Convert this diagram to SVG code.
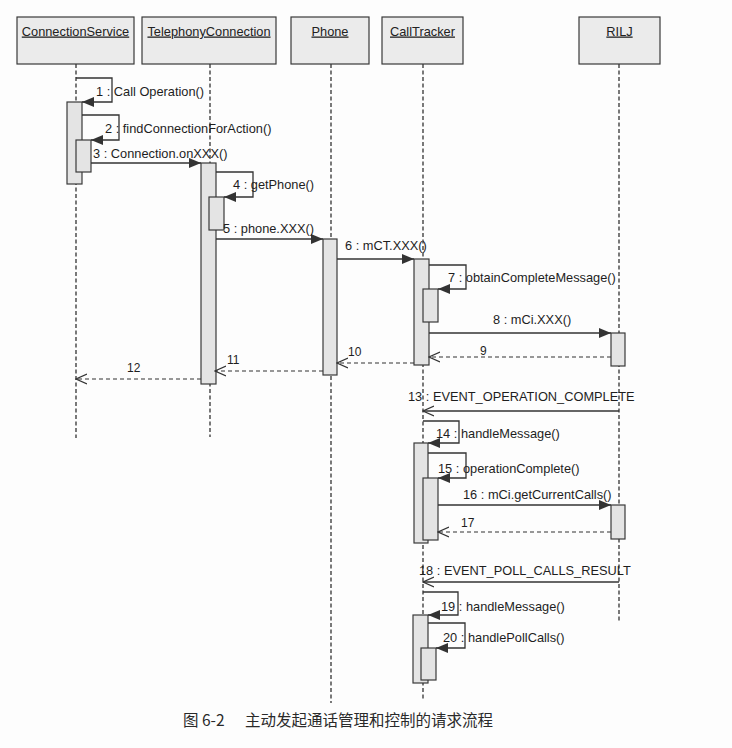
<svg xmlns="http://www.w3.org/2000/svg" width="732" height="748" viewBox="0 0 732 748">
  <defs>
    <style>
      .bg { fill: #fdfdfd; }
      .head { fill: #ebebeb; stroke: #3a3a3a; stroke-width: 1.2; }
      .htext { font-family: "Liberation Sans", Arial, sans-serif; font-size: 12.8px; fill: #222; text-anchor: middle; text-decoration: underline; }
      .life { stroke: #333; stroke-width: 1.3; stroke-dasharray: 4 2.5; fill: none; }
      .act { fill: #e4e4e4; stroke: #3a3a3a; stroke-width: 1.2; }
      .msg { stroke: #333; stroke-width: 1.3; fill: none; }
      .ret { stroke: #333; stroke-width: 1.2; fill: none; stroke-dasharray: 4 3; }
      .lbl { font-family: "Liberation Sans", Arial, sans-serif; font-size: 12.8px; fill: #1e1e1e; }
      .num { font-family: "Liberation Sans", Arial, sans-serif; font-size: 12px; fill: #1e1e1e; }
      .cap { font-family: "Noto Sans CJK SC", "Noto Sans", sans-serif; font-size: 15.5px; fill: #2a2a2a; }
    </style>
    <marker id="sync" viewBox="0 0 12 10" refX="12" refY="5" markerWidth="12" markerHeight="10" markerUnits="userSpaceOnUse" orient="auto">
      <path d="M0,0 L12,5 L0,10 z" fill="#333"/>
    </marker>
    <marker id="open" viewBox="0 0 12 12" refX="11" refY="6" markerWidth="12" markerHeight="12" markerUnits="userSpaceOnUse" orient="auto">
      <path d="M0,1 L11,6 L0,11" fill="none" stroke="#333" stroke-width="1.2"/>
    </marker>
  </defs>

  <rect class="bg" x="0" y="0" width="732" height="748"/>

  <!-- lifelines with their heads and activation bars -->
  <g id="connectionService">
    <line class="life" x1="76" y1="64" x2="76" y2="438"/>
    <rect class="head" x="17" y="17" width="117" height="47"/>
    <text class="htext" x="75.5" y="35.5">ConnectionService</text>
    <rect class="act" x="67" y="102" width="15" height="82"/>
    <rect class="act" x="76" y="140" width="15" height="32"/>
  </g>

  <g id="telephonyConnection">
    <line class="life" x1="210" y1="64" x2="210" y2="437"/>
    <rect class="head" x="142" y="17" width="134" height="47"/>
    <text class="htext" x="209" y="35.5">TelephonyConnection</text>
    <rect class="act" x="201" y="163" width="15" height="221"/>
    <rect class="act" x="209" y="197" width="15" height="33"/>
  </g>

  <g id="phone">
    <line class="life" x1="331" y1="64" x2="331" y2="703"/>
    <rect class="head" x="291" y="17" width="78" height="47"/>
    <text class="htext" x="330" y="35.5">Phone</text>
    <rect class="act" x="323" y="239" width="14" height="136"/>
  </g>

  <g id="callTracker">
    <line class="life" x1="423" y1="64" x2="423" y2="700"/>
    <rect class="head" x="382" y="17" width="81" height="47"/>
    <text class="htext" x="422.5" y="35.5">CallTracker</text>
    <rect class="act" x="414" y="259" width="15" height="106"/>
    <rect class="act" x="423" y="289" width="15" height="33"/>
    <rect class="act" x="414" y="443" width="14" height="100"/>
    <rect class="act" x="423" y="478" width="15" height="62"/>
    <rect class="act" x="413" y="615" width="15" height="68"/>
    <rect class="act" x="421" y="648" width="15" height="32"/>
  </g>

  <g id="rilj">
    <line class="life" x1="619" y1="64" x2="619" y2="623"/>
    <rect class="head" x="579" y="17" width="81" height="47"/>
    <text class="htext" x="619.5" y="35.5">RILJ</text>
    <rect class="act" x="611" y="333" width="14" height="33"/>
    <rect class="act" x="611" y="505" width="14" height="34"/>
  </g>

  <!-- messages -->
  <g id="connectors">
    <path class="msg" d="M76,78 H112 V102 H82" marker-end="url(#sync)"/>
    <path class="msg" d="M82,115 H119 V140 H91" marker-end="url(#sync)"/>
    <path class="msg" d="M91,163 H201" marker-end="url(#sync)"/>
    <path class="msg" d="M216,172 H253 V197 H224" marker-end="url(#sync)"/>
    <path class="msg" d="M216,239 H323" marker-end="url(#sync)"/>
    <path class="msg" d="M337,259 H414" marker-end="url(#sync)"/>
    <path class="msg" d="M429,265 H466 V289 H438" marker-end="url(#sync)"/>
    <path class="msg" d="M429,333 H611" marker-end="url(#sync)"/>
    <path class="ret" d="M611,357 H429" marker-end="url(#open)"/>
    <path class="ret" d="M414,363 H337" marker-end="url(#open)"/>
    <path class="ret" d="M323,371 H215" marker-end="url(#open)"/>
    <path class="ret" d="M201,379 H76" marker-end="url(#open)"/>
    <path class="msg" d="M619,411 H423" marker-end="url(#open)"/>
    <path class="msg" d="M423,421 H459 V443 H428" marker-end="url(#sync)"/>
    <path class="msg" d="M428,453 H466 V478 H438" marker-end="url(#sync)"/>
    <path class="msg" d="M438,505 H611" marker-end="url(#sync)"/>
    <path class="ret" d="M611,532 H438" marker-end="url(#open)"/>
    <path class="msg" d="M619,582 H423" marker-end="url(#open)"/>
    <path class="msg" d="M423,592 H458 V615 H428" marker-end="url(#sync)"/>
    <path class="msg" d="M428,623 H465 V648 H436" marker-end="url(#sync)"/>

    <text class="lbl" x="96" y="95.5">1 : Call Operation()</text>
    <text class="lbl" x="105" y="132.5">2 : findConnectionForAction()</text>
    <text class="lbl" x="93" y="157.5">3 : Connection.onXXX()</text>
    <text class="lbl" x="233" y="188.5">4 : getPhone()</text>
    <text class="lbl" x="223" y="232.5">5 : phone.XXX()</text>
    <text class="lbl" x="345" y="249.5">6 : mCT.XXX()</text>
    <text class="lbl" x="448" y="281.5">7 : obtainCompleteMessage()</text>
    <text class="lbl" x="493" y="323.5">8 : mCi.XXX()</text>
    <text class="num" x="480" y="354.5">9</text>
    <text class="num" x="348" y="356">10</text>
    <text class="num" x="227" y="364">11</text>
    <text class="num" x="127" y="372">12</text>
    <text class="lbl" x="408" y="400.5">13 : EVENT_OPERATION_COMPLETE</text>
    <text class="lbl" x="436" y="437.5">14 : handleMessage()</text>
    <text class="lbl" x="438" y="472.5">15 : operationComplete()</text>
    <text class="lbl" x="463" y="498.5">16 : mCi.getCurrentCalls()</text>
    <text class="num" x="461" y="526.5">17</text>
    <text class="lbl" x="419" y="574.5">18 : EVENT_POLL_CALLS_RESULT</text>
    <text class="lbl" x="441" y="610.5">19 : handleMessage()</text>
    <text class="lbl" x="443" y="641.5">20 : handlePollCalls()</text>
  </g>

  <text class="cap" y="726"><tspan x="183">图 6-2</tspan><tspan x="245">主动发起通话管理和控制的请求流程</tspan></text>
</svg>
